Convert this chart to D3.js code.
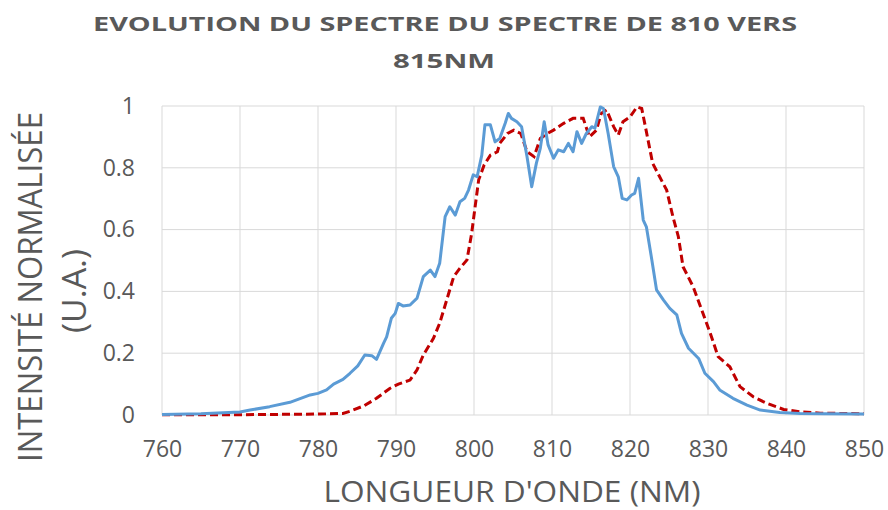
<!DOCTYPE html>
<html>
<head>
  <meta charset="utf-8">
  <title>Evolution du spectre</title>
  <style>
    body { margin: 0; background: #fff; }
    text { font-family: "Open Sans", "Liberation Sans", sans-serif; fill: #595959; }
    .grid line { stroke: #d9d9d9; stroke-width: 1; }
    .axis path, .axis line { display: none; }
    .axis text { font-size: 23px; fill: #595959; }
  </style>
  <script src="https://d3js.org/d3.v7.min.js"></script>
</head>
<body>
<svg width="888" height="510"></svg>
<script>
"use strict";

// longueurs d'onde (nm) et intensité du spectre bleu (810 nm)
var blueNm = [760, 765, 770, 771.3, 773.8, 776.4, 779, 780, 781.1, 782, 783.2, 784.1, 785.1, 786, 786.9, 787.5,
  788.4, 788.8, 789.4, 789.9, 790.3, 790.9, 791.8, 792.7, 793.5, 794.4, 795, 795.6, 796.3, 796.9, 797.6, 798.2,
  798.8, 799.3, 799.9, 800.4, 801, 801.4, 802.1, 802.7, 803.3, 804, 804.4, 804.8, 805.5, 806.1, 806.8, 807.4,
  808, 808.5, 809, 809.5, 810.2, 810.8, 811.5, 812.1, 812.7, 813.2, 813.8, 814.4, 815.1, 815.5, 816.2, 816.6,
  817.2, 817.9, 818.5, 819, 819.6, 820.2, 820.6, 821.1, 821.7, 822.1, 822.8, 823.4, 824.3, 825.1, 826, 826.6,
  827.5, 828.8, 829.6, 830.7, 831.5, 833.2, 835, 836.7, 839.2, 841.8, 845, 850];
var blueVal = [0.002, 0.004, 0.01, 0.016, 0.027, 0.041, 0.065, 0.07, 0.081, 0.1, 0.115, 0.135, 0.159, 0.194, 0.192, 0.18,
  0.232, 0.253, 0.313, 0.329, 0.361, 0.353, 0.356, 0.378, 0.448, 0.469, 0.448, 0.491, 0.642, 0.674, 0.647, 0.69,
  0.701, 0.728, 0.777, 0.771, 0.841, 0.939, 0.939, 0.884, 0.895, 0.944, 0.976, 0.96, 0.949, 0.933, 0.836, 0.739,
  0.815, 0.863, 0.949, 0.874, 0.831, 0.858, 0.852, 0.879, 0.852, 0.917, 0.879, 0.911, 0.933, 0.928, 0.997, 0.992,
  0.911, 0.804, 0.771, 0.701, 0.696, 0.712, 0.717, 0.766, 0.631, 0.609, 0.502, 0.405, 0.372, 0.345, 0.324, 0.264,
  0.216, 0.183, 0.135, 0.108, 0.081, 0.054, 0.032, 0.016, 0.008, 0.005, 0.004, 0.003];

// longueurs d'onde (nm) et intensité du spectre rouge (815 nm)
var redNm = [760, 770, 780, 783.2, 784.1, 785.9, 787.5, 789.2, 790.3, 791.8, 792.7, 793.5, 794.8, 795.6, 796.5, 797.4,
  798.2, 799.1, 799.7, 800.2, 800.6, 801.3, 802.1, 803, 803.3, 804.3, 805.1, 806, 806.8, 807.7, 808.5, 809.4,
  810.2, 811.5, 812.7, 814, 814.8, 815.7, 816.3, 817, 817.9, 818.5, 819.1, 820, 820.9, 821.5, 822.1, 822.9,
  823.8, 824.7, 825.5, 826.2, 826.8, 828.1, 829.2, 830.3, 831.3, 832.8, 834.1, 835.8, 837.5, 839.7, 841.8, 844.4, 850];
var redVal = [0.001, 0.001, 0.003, 0.005, 0.012, 0.03, 0.054, 0.086, 0.1, 0.113, 0.146, 0.194, 0.248, 0.297, 0.372, 0.448,
  0.475, 0.502, 0.588, 0.685, 0.761, 0.809, 0.841, 0.852, 0.879, 0.911, 0.922, 0.911, 0.852, 0.836, 0.895, 0.911,
  0.922, 0.944, 0.96, 0.96, 0.9, 0.922, 0.976, 0.987, 0.933, 0.906, 0.949, 0.965, 0.997, 0.992, 0.917, 0.815,
  0.771, 0.728, 0.642, 0.577, 0.48, 0.415, 0.34, 0.264, 0.189, 0.156, 0.092, 0.059, 0.038, 0.018, 0.01, 0.006, 0.004];

var xTicks = [760, 770, 780, 790, 800, 810, 820, 830, 840, 850];
var yTicks = [0, 0.2, 0.4, 0.6, 0.8, 1];

var titleLines = ["EVOLUTION DU SPECTRE DU SPECTRE DE 810 VERS", "815NM"];
var xTitle = "LONGUEUR D'ONDE (NM)";
var yTitleLines = ["INTENSITÉ NORMALISÉE", "(U.A.)"];

var svg = d3.select("svg"),
    margin = {top: 106, right: 24, bottom: 95, left: 162},
    width = +svg.attr("width") - margin.left - margin.right,
    height = +svg.attr("height") - margin.top - margin.bottom;

var x = d3.scaleLinear().domain([760, 850]).range([0, width]),
    y = d3.scaleLinear().domain([0, 1]).range([height, 0]);

var g = svg.append("g")
    .attr("transform", "translate(" + margin.left + "," + margin.top + ")");

// grille
g.append("g").attr("class", "grid")
  .selectAll("line").data(yTicks).enter().append("line")
    .attr("x1", 0).attr("x2", width)
    .attr("y1", function(d) { return y(d); })
    .attr("y2", function(d) { return y(d); });

g.append("g").attr("class", "grid")
  .selectAll("line").data(xTicks).enter().append("line")
    .attr("y1", 0).attr("y2", height)
    .attr("x1", function(d) { return x(d); })
    .attr("x2", function(d) { return x(d); });

// axes
var xAxis = g.append("g")
    .attr("class", "axis")
    .attr("transform", "translate(0," + height + ")")
    .call(d3.axisBottom(x).tickValues(xTicks).tickSize(0).tickPadding(26).tickFormat(d3.format("d")));
xAxis.selectAll("text").attr("font-family", null).attr("font-size", null);

var yAxis = g.append("g")
    .attr("class", "axis")
    .call(d3.axisLeft(y).tickValues(yTicks).tickSize(0).tickPadding(27).tickFormat(function(d) { return d; }));
yAxis.selectAll("text").attr("font-family", null).attr("font-size", null);
xAxis.attr("font-family", null).attr("font-size", null);
yAxis.attr("font-family", null).attr("font-size", null);

// courbes
var line = d3.line()
    .x(function(d) { return x(d[0]); })
    .y(function(d) { return y(d[1]); });

g.append("path")
    .datum(d3.zip(redNm, redVal))
    .attr("fill", "none")
    .attr("stroke", "#c00000")
    .attr("stroke-width", 3)
    .attr("stroke-dasharray", "8,4")
    .attr("d", line);

g.append("path")
    .datum(d3.zip(blueNm, blueVal))
    .attr("fill", "none")
    .attr("stroke", "#5b9bd5")
    .attr("stroke-width", 3)
    .attr("stroke-linejoin", "round")
    .attr("d", line);

// titres
svg.append("text")
    .attr("x", 445).attr("y", 31)
    .attr("text-anchor", "middle")
    .attr("font-size", 20).attr("font-weight", "bold")
    .attr("textLength", 704).attr("lengthAdjust", "spacingAndGlyphs")
    .text(titleLines[0]);

svg.append("text")
    .attr("x", 444).attr("y", 68)
    .attr("text-anchor", "middle")
    .attr("font-size", 20).attr("font-weight", "bold")
    .attr("textLength", 102).attr("lengthAdjust", "spacingAndGlyphs")
    .text(titleLines[1]);

svg.append("text")
    .attr("x", 512).attr("y", 502)
    .attr("text-anchor", "middle")
    .attr("font-size", 30)
    .attr("textLength", 377).attr("lengthAdjust", "spacingAndGlyphs")
    .text(xTitle);

svg.append("text")
    .attr("transform", "translate(42,287) rotate(-90)")
    .attr("text-anchor", "middle")
    .attr("font-size", 32)
    .attr("textLength", 350).attr("lengthAdjust", "spacingAndGlyphs")
    .text(yTitleLines[0]);

svg.append("text")
    .attr("transform", "translate(86,291) rotate(-90)")
    .attr("text-anchor", "middle")
    .attr("font-size", 32)
    .attr("textLength", 84).attr("lengthAdjust", "spacingAndGlyphs")
    .text(yTitleLines[1]);
</script>
</body>
</html>
